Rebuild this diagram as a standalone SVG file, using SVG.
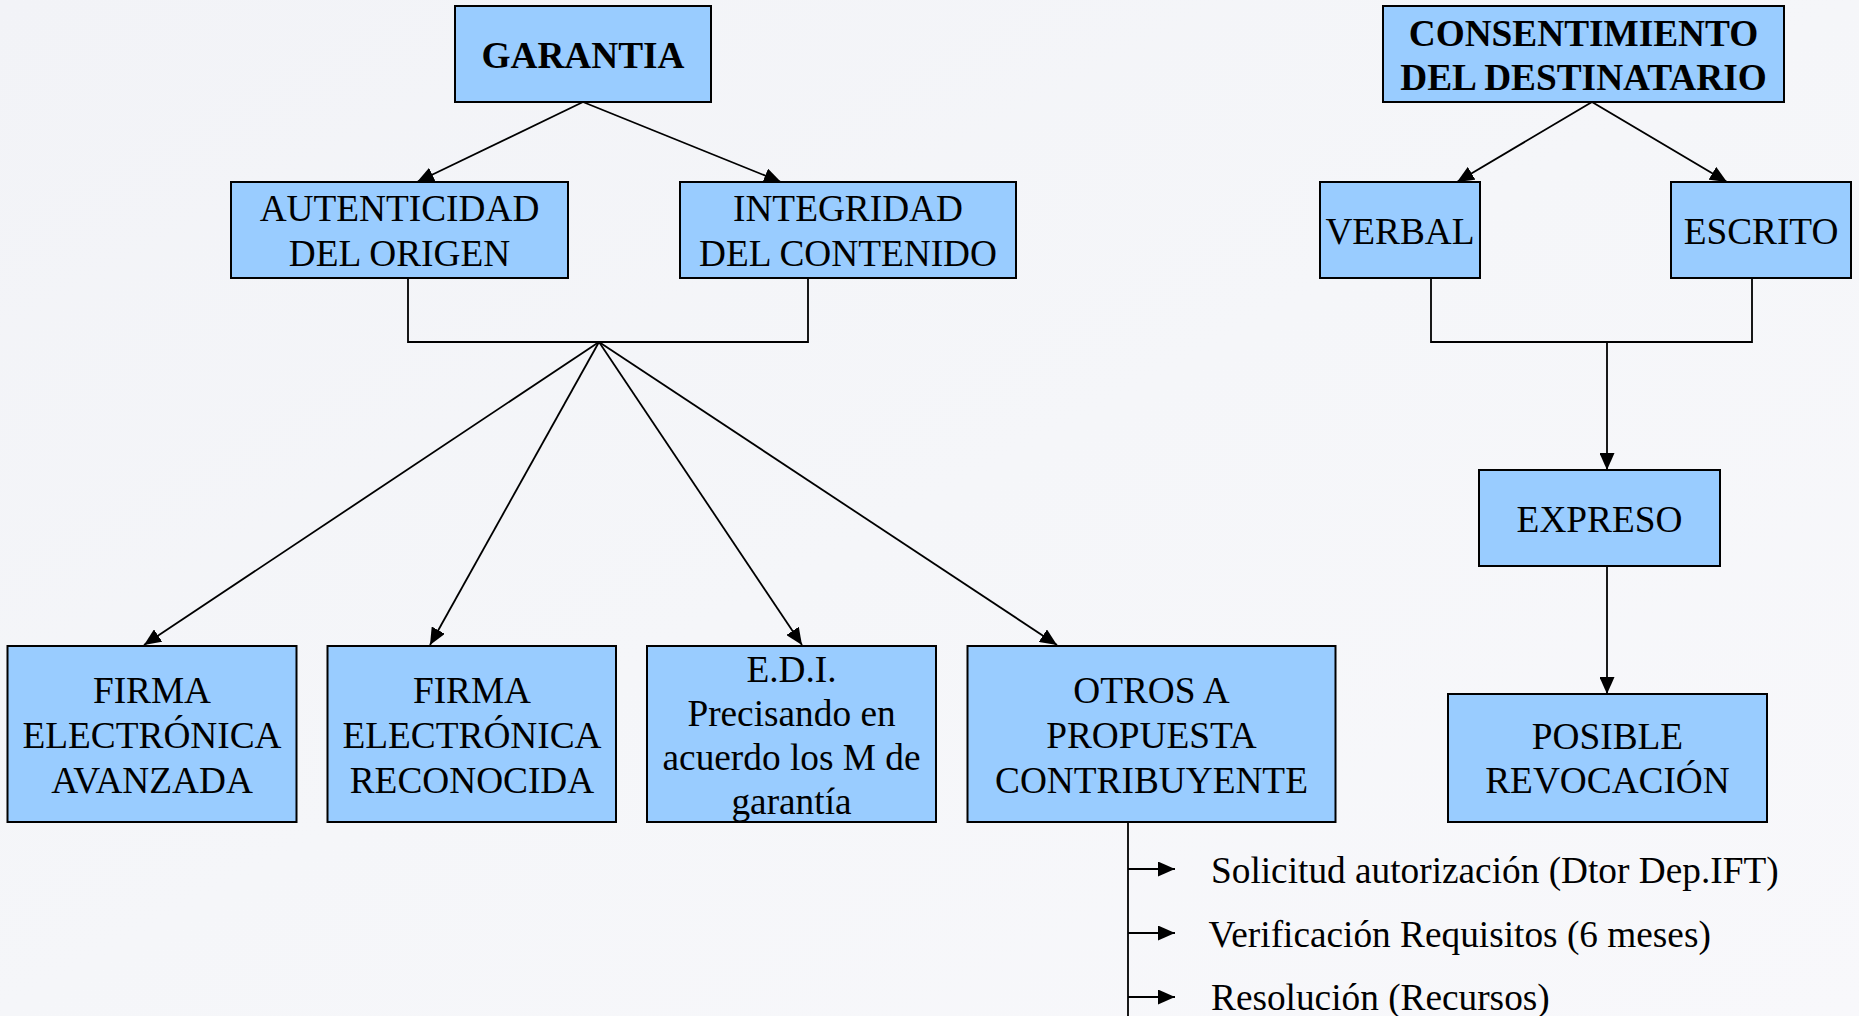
<svg xmlns="http://www.w3.org/2000/svg" width="1859" height="1016" viewBox="0 0 1859 1016">
<defs>
<linearGradient id="bg" x1="0" y1="0" x2="1" y2="1">
<stop offset="0" stop-color="#f2f3f7"/>
<stop offset="0.5" stop-color="#f5f6f9"/>
<stop offset="1" stop-color="#f8f8fb"/>
</linearGradient>
<marker id="ah" markerUnits="userSpaceOnUse" markerWidth="17" markerHeight="15" refX="17" refY="7.5" orient="auto">
<path d="M0,0 L17,7.5 L0,15 z" fill="#000"/>
</marker>
</defs>
<style>
.box{fill:#99ccff;stroke:#000;stroke-width:2}
.t{font-family:"Liberation Serif","Times New Roman",serif;font-size:37.3px;fill:#000;text-anchor:middle}
.b{font-weight:bold}
.l{font-family:"Liberation Serif","Times New Roman",serif;font-size:37.3px;fill:#000}
.c{fill:none;stroke:#000;stroke-width:1.8}
.a{fill:none;stroke:#000;stroke-width:1.8;marker-end:url(#ah)}
</style>
<rect x="0" y="0" width="1859" height="1016" fill="url(#bg)"/>

<g id="connectors">
<line class="a" x1="583" y1="102" x2="417" y2="182"/>
<line class="a" x1="583" y1="102" x2="781" y2="182"/>
<polyline class="c" points="408,278 408,342 808,342 808,278"/>
<line class="a" x1="599" y1="342" x2="144" y2="645"/>
<line class="a" x1="599" y1="342" x2="430" y2="645"/>
<line class="a" x1="599" y1="342" x2="802" y2="645"/>
<line class="a" x1="599" y1="342" x2="1057" y2="645"/>
<line class="a" x1="1592" y1="102" x2="1457" y2="182"/>
<line class="a" x1="1592" y1="102" x2="1727" y2="182"/>
<polyline class="c" points="1431,278 1431,342 1752,342 1752,278"/>
<line class="a" x1="1607" y1="342" x2="1607" y2="470"/>
<line class="a" x1="1607" y1="566" x2="1607" y2="694"/>
<line class="c" x1="1128" y1="822" x2="1128" y2="1016"/>
<line class="a" x1="1128" y1="869" x2="1175" y2="869"/>
<line class="a" x1="1128" y1="933" x2="1175" y2="933"/>
<line class="a" x1="1128" y1="997" x2="1175" y2="997"/>
</g>

<g id="garantia">
<rect class="box" x="455" y="6" width="256" height="96"/>
<text class="t b" x="583" y="68">GARANTIA</text>
</g>
<g id="autenticidad">
<rect class="box" x="231" y="182" width="337" height="96"/>
<text class="t" x="399.5" y="220.5">AUTENTICIDAD</text>
<text class="t" x="399.5" y="265.5">DEL ORIGEN</text>
</g>
<g id="integridad">
<rect class="box" x="680" y="182" width="336" height="96"/>
<text class="t" x="848" y="220.5">INTEGRIDAD</text>
<text class="t" x="848" y="265.5">DEL CONTENIDO</text>
</g>
<g id="consentimiento">
<rect class="box" x="1383" y="6" width="401" height="96"/>
<text class="t b" x="1583.5" y="45.5">CONSENTIMIENTO</text>
<text class="t b" x="1583.5" y="89.5">DEL DESTINATARIO</text>
</g>
<g id="verbal">
<rect class="box" x="1320" y="182" width="160" height="96"/>
<text class="t" x="1400" y="244">VERBAL</text>
</g>
<g id="escrito">
<rect class="box" x="1671" y="182" width="180" height="96"/>
<text class="t" x="1761" y="244">ESCRITO</text>
</g>
<g id="expreso">
<rect class="box" x="1479" y="470" width="241" height="96"/>
<text class="t" x="1599.5" y="532">EXPRESO</text>
</g>
<g id="posible">
<rect class="box" x="1448" y="694" width="319" height="128"/>
<text class="t" x="1607.5" y="749">POSIBLE</text>
<text class="t" x="1607.5" y="793">REVOCACIÓN</text>
</g>
<g id="firma-avanzada">
<rect class="box" x="7.5" y="646" width="289" height="176"/>
<text class="t" x="152" y="702.5">FIRMA</text>
<text class="t" x="152" y="747.5">ELECTRÓNICA</text>
<text class="t" x="152" y="792.5">AVANZADA</text>
</g>
<g id="firma-reconocida">
<rect class="box" x="327.5" y="646" width="288.5" height="176"/>
<text class="t" x="472" y="702.5">FIRMA</text>
<text class="t" x="472" y="747.5">ELECTRÓNICA</text>
<text class="t" x="472" y="792.5">RECONOCIDA</text>
</g>
<g id="edi">
<rect class="box" x="647" y="646" width="289" height="176"/>
<text class="t" x="791.5" y="681.5">E.D.I.</text>
<text class="t" x="791.5" y="725.5">Precisando en</text>
<text class="t" x="791.5" y="769.5">acuerdo los M de</text>
<text class="t" x="791.5" y="813.5">garantía</text>
</g>
<g id="otros">
<rect class="box" x="967.5" y="646" width="368" height="176"/>
<text class="t" x="1151.5" y="702.5">OTROS A</text>
<text class="t" x="1151.5" y="747.5">PROPUESTA</text>
<text class="t" x="1151.5" y="792.5">CONTRIBUYENTE</text>
</g>
<g id="pasos">
<text class="l" x="1211" y="883">Solicitud autorización (Dtor Dep.IFT)</text>
<text class="l" x="1208.5" y="947">Verificación Requisitos (6 meses)</text>
<text class="l" x="1211" y="1010">Resolución (Recursos)</text>
</g>
</svg>
